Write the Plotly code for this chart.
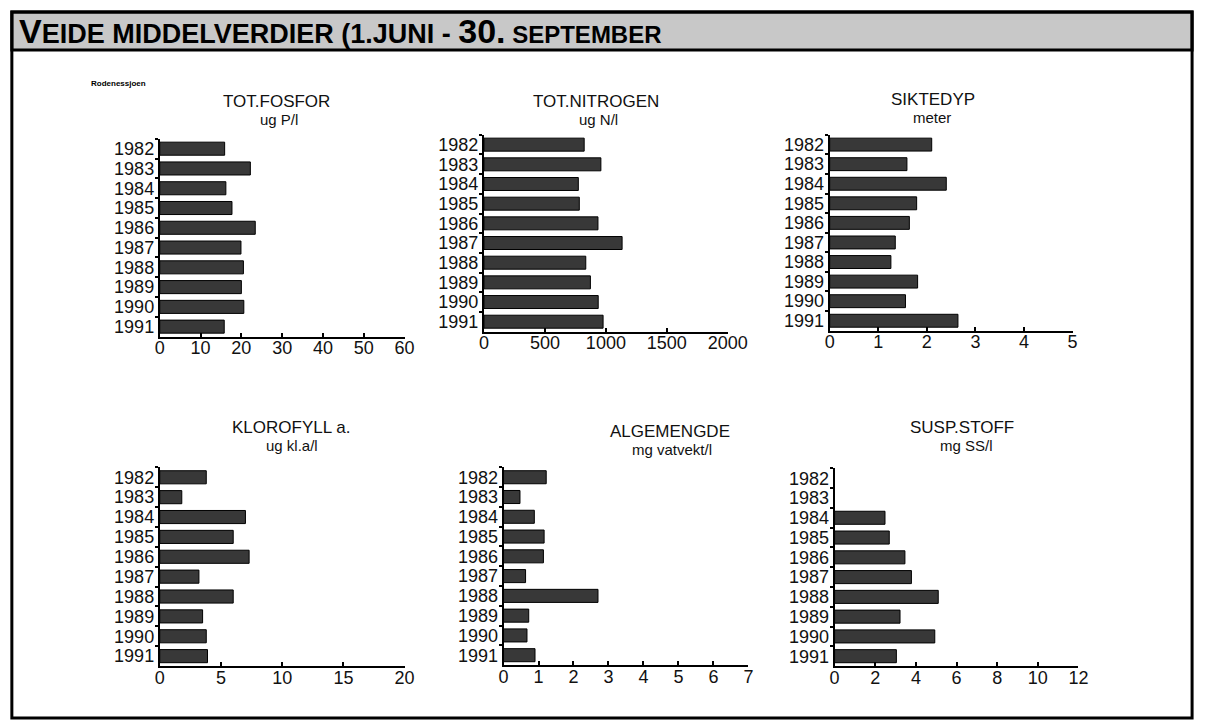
import plotly.graph_objects as go

W, H = 1216, 722
FONT = "Liberation Sans, Arial, sans-serif"
BAR = "#383838"
INK = "#111111"

years = ["1982", "1983", "1984", "1985", "1986", "1987", "1988", "1989", "1990", "1991"]

fosfor = [15.9, 22.2, 16.2, 17.7, 23.4, 19.9, 20.5, 20.0, 20.6, 15.8]
nitrogen = [822, 959, 774, 782, 935, 1133, 835, 873, 937, 977]
siktedyp = [2.10, 1.59, 2.40, 1.79, 1.64, 1.35, 1.26, 1.81, 1.56, 2.64]
klorofyll = [3.8, 1.8, 7.0, 6.0, 7.3, 3.2, 6.0, 3.5, 3.8, 3.9]
algemengde = [1.22, 0.47, 0.88, 1.16, 1.14, 0.63, 2.70, 0.72, 0.67, 0.90]
susp_stoff = [None, None, 2.48, 2.69, 3.46, 3.78, 5.10, 3.22, 4.93, 3.04]

# panel: title, unit, values, x max, dtick, plot box px (x0, x1, y0, y1), title centres px
panels = [
    ("TOT.FOSFOR", "ug P/l", fosfor, 60, 10, (158, 408, 139, 337), (277, 102, 280, 120)),
    ("TOT.NITROGEN", "ug N/l", nitrogen, 2000, 500, (489, 738, 135, 332), (603, 102, 606, 120)),
    ("SIKTEDYP", "meter", siktedyp, 5, 1, (842, 1090, 135, 331), (947, 100, 946, 118)),
    ("KLOROFYLL a.", "ug kl.a/l", klorofyll, 20, 5, (158, 408, 468, 667), (292, 428, 293, 446)),
    ("ALGEMENGDE", "mg vatvekt/l", algemengde, 7, 1, (509, 759, 468, 666), (679, 432, 681, 450)),
    ("SUSP.STOFF", "mg SS/l", susp_stoff, 12, 2, (847, 1096, 469, 667), (977, 428, 982, 446)),
]

fig = go.Figure()
annotations = []
layout_axes = {}

for i, (title, unit, vals, xmax, dtick, box, tpos) in enumerate(panels, start=1):
    x0, x1, y0, y1 = box
    xa = "x" if i == 1 else f"x{i}"
    ya = "y" if i == 1 else f"y{i}"
    fig.add_trace(go.Bar(
        x=vals, y=years, orientation="h", xaxis=xa, yaxis=ya,
        marker=dict(color=BAR, line=dict(color="#000000", width=1)),
        showlegend=False,
    ))
    layout_axes["xaxis" if i == 1 else f"xaxis{i}"] = dict(
        domain=[x0 / W, x1 / W], anchor=ya, range=[0, xmax], dtick=dtick,
        showgrid=False, zeroline=False, showline=True, linecolor="#000", linewidth=2,
        ticks="inside", ticklen=4, tickwidth=1.5, tickcolor="#000",
        ticklabelstandoff=-6,
        tickfont=dict(family=FONT, size=18, color=INK), fixedrange=True,
    )
    layout_axes["yaxis" if i == 1 else f"yaxis{i}"] = dict(
        domain=[1 - y1 / H, 1 - y0 / H], anchor=xa, type="category",
        categoryorder="array", categoryarray=years, autorange="reversed", dtick=1,
        showgrid=False, zeroline=False, showline=True, linecolor="#000", linewidth=2,
        ticks="outside", ticklen=3, tickwidth=1.5, tickcolor="#000", tickson="boundaries",
        tickfont=dict(family=FONT, size=18, color=INK), fixedrange=True,
    )
    tx1, ty1, tx2, ty2 = tpos
    annotations.append(dict(
        text=title, x=tx1 / W, y=1 - ty1 / H, xref="paper", yref="paper",
        xanchor="center", yanchor="middle", showarrow=False,
        font=dict(family=FONT, size=17, color=INK),
    ))
    annotations.append(dict(
        text=unit, x=tx2 / W, y=1 - ty2 / H, xref="paper", yref="paper",
        xanchor="center", yanchor="middle", showarrow=False,
        font=dict(family=FONT, size=15, color=INK),
    ))

# header band text (small caps look)
annotations.append(dict(
    text=("<b><span style='font-size:34px'>V</span>EIDE MIDDELVERDIER (1.JUNI - "
          "<span style='font-size:34px'>30.</span>"
          "<span style='font-size:24px'> SEPTEMBER</span></b>"),
    x=12 / W, y=1 - 31 / H, xref="paper", yref="paper",
    xanchor="left", yanchor="middle", showarrow=False,
    font=dict(family=FONT, size=27, color="#000"),
))
annotations.append(dict(
    text="<b>Rodenessjoen</b>", x=86 / W, y=1 - 84 / H, xref="paper", yref="paper",
    xanchor="left", yanchor="middle", showarrow=False,
    font=dict(family=FONT, size=8, color="#000"),
))

shapes = [
    dict(type="rect", xref="paper", yref="paper", layer="below",
         x0=7 / W, x1=1212 / W, y0=1 - 50 / H, y1=1 - 12 / H,
         fillcolor="#c8c8c8", line=dict(color="#000", width=3)),
    dict(type="rect", xref="paper", yref="paper",
         x0=7 / W, x1=1212 / W, y0=1 - 719 / H, y1=1 - 12 / H,
         line=dict(color="#000", width=3)),
]

fig.update_layout(
    autosize=True, margin=dict(l=0, r=0, t=0, b=0),
    paper_bgcolor="white", plot_bgcolor="white",
    bargap=0.34, annotations=annotations, shapes=shapes,
    **layout_axes,
)

fig.write_html(
    "out.html", config={"displayModeBar": False, "responsive": True},
    default_width="100vw", default_height="100vh",
    post_script="document.body.style.margin='0';document.body.style.overflow='hidden';",
)
